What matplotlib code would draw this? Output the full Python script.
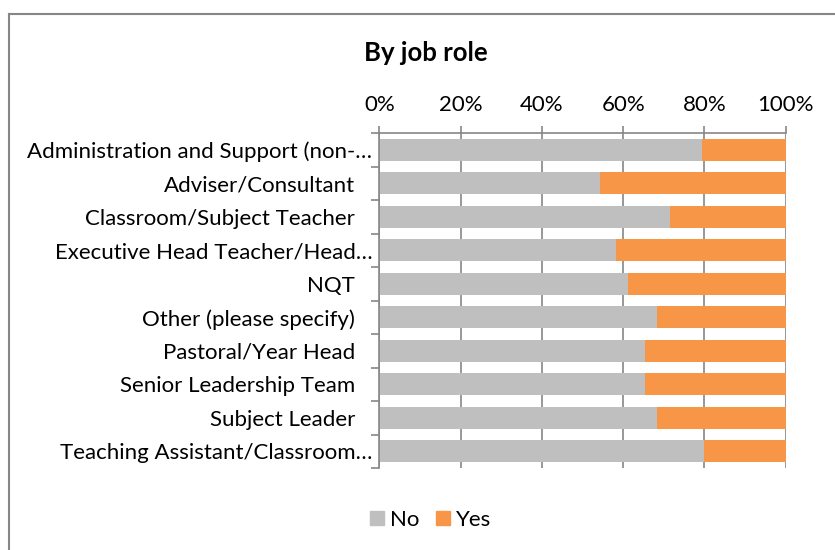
import numpy as np
import matplotlib
matplotlib.use("Agg")
import matplotlib.pyplot as plt
from matplotlib.lines import Line2D
from matplotlib.transforms import blended_transform_factory, offset_copy

plt.rcParams["font.family"] = ["Lato", "DejaVu Sans"]

categories = [
    "Administration and Support (non-…",
    "Adviser/Consultant",
    "Classroom/Subject Teacher",
    "Executive Head Teacher/Head…",
    "NQT",
    "Other (please specify)",
    "Pastoral/Year Head",
    "Senior Leadership Team",
    "Subject Leader",
    "Teaching Assistant/Classroom…",
]
truncated = [True, False, False, True, False, False, False, False, False, True]
no_pct = [79.3, 54.3, 71.5, 58.2, 61.1, 68.2, 65.4, 65.4, 68.4, 79.9]
yes_pct = [100 - v for v in no_pct]
x_ticks = [0, 20, 40, 60, 80, 100]

GREY = "#BFBFBF"
ORANGE = "#F79646"
LINE = "#868686"
FS = 16

fig = plt.figure(figsize=(8.35, 5.5), dpi=100)
ax = fig.add_axes([0.4543, 0.149, 0.4867, 0.609])

y = np.arange(len(categories))
ax.barh(y, no_pct, height=0.65, color=GREY, label="No", zorder=2)
ax.barh(y, yes_pct, left=no_pct, height=0.65, color=ORANGE, label="Yes", zorder=2)

ax.set_xlim(0, 100)
ax.set_ylim(len(categories) - 0.5, -0.5)

# value axis on top, percent labels
ax.xaxis.tick_top()
ax.set_xticks(x_ticks)
ax.set_xticklabels([f"{t}%" for t in x_ticks], fontsize=FS)
ax.tick_params(axis="x", direction="out", length=5, color=LINE, width=1.2, pad=8)
ax.grid(axis="x", color=LINE, linewidth=1.2, zorder=1)

# category ticks sit between the bars
ax.set_yticks([])
ax.set_yticks(np.arange(len(categories) + 1) - 0.5, minor=True)
ax.tick_params(axis="y", which="minor", direction="out", length=6, color=LINE, width=1.2)

for side in ["right", "bottom"]:
    ax.spines[side].set_visible(False)
for side in ["left", "top"]:
    ax.spines[side].set_color(LINE)
    ax.spines[side].set_linewidth(1.2)

trans = blended_transform_factory(ax.transAxes, ax.transData)
for yi, label, cut in zip(y, categories, truncated):
    pad = -7 if cut else -24
    t = offset_copy(trans, fig=fig, x=pad, y=-2, units="dots")
    ax.text(0, yi, label, transform=t, ha="right", va="center", fontsize=FS)

fig.text(426 / 835, 1 - 53 / 550, "By job role", ha="center", va="center",
         fontsize=18.5, fontweight="bold")

handles = [
    Line2D([], [], marker="s", linestyle="none", markersize=10, color=GREY),
    Line2D([], [], marker="s", linestyle="none", markersize=10, color=ORANGE),
]
fig.legend(handles, ["No", "Yes"], loc="center", bbox_to_anchor=(430 / 835, 1 - 520 / 550),
           ncol=2, frameon=False, fontsize=FS, handlelength=0.7, handletextpad=0.25,
           columnspacing=0.7)

# chart frame
fig.add_artist(Line2D([9 / 835, 9 / 835], [0, 1 - 14 / 550], transform=fig.transFigure,
                      color=LINE, linewidth=1.5))
fig.add_artist(Line2D([9 / 835, 1], [1 - 14 / 550, 1 - 14 / 550], transform=fig.transFigure,
                      color=LINE, linewidth=1.5))

fig.savefig("out.png", dpi=100, facecolor="white")
